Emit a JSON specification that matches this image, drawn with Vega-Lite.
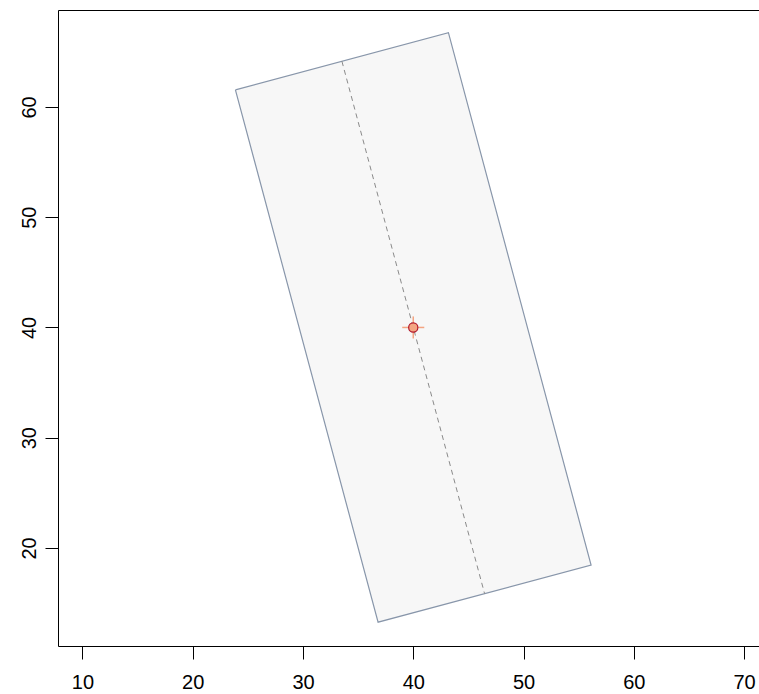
{
  "$schema": "https://vega.github.io/schema/vega-lite/v6.json",
  "width": 701,
  "height": 636,
  "autosize": {"type": "none"},
  "padding": {"left": 58, "top": 10, "right": 0, "bottom": 48},
  "background": "white",
  "config": {
    "view": {"stroke": null},
    "font": "Liberation Sans",
    "axis": {
      "grid": false,
      "domainColor": "black",
      "domainWidth": 1,
      "tickColor": "black",
      "tickWidth": 1,
      "tickSize": 13,
      "labelFont": "Liberation Sans",
      "labelFontSize": 20,
      "labelColor": "black",
      "title": null
    }
  },
  "datasets": {
    "poly": [
      {"o": 1, "x": 23.87, "y": 61.56},
      {"o": 2, "x": 43.19, "y": 66.74},
      {"o": 3, "x": 56.13, "y": 18.44},
      {"o": 4, "x": 36.81, "y": 13.26},
      {"o": 5, "x": 23.87, "y": 61.56}
    ],
    "axisline": [
      {"x": 33.53, "y": 64.15, "x2": 46.47, "y2": 15.85}
    ],
    "cross": [
      {"x": 39.0, "y": 40, "x2": 41.0, "y2": 40},
      {"x": 40, "y": 39.0, "x2": 40, "y2": 41.0}
    ],
    "center": [
      {"x": 40, "y": 40}
    ]
  },
  "resolve": {"axis": {"x": "independent", "y": "independent"}},
  "layer": [
    {
      "data": {"name": "poly"},
      "mark": {"type": "line", "fill": "#f7f7f7", "stroke": "#8896aa", "strokeWidth": 1.2, "clip": true},
      "encoding": {
        "x": {"field": "x", "type": "quantitative", "scale": {"domain": [7.778, 71.36], "nice": false, "zero": false},
              "axis": {"orient": "bottom", "values": [10, 20, 30, 40, 50, 60, 70], "labelPadding": 13, "labelFlush": false, "labelOverlap": false}},
        "y": {"field": "y", "type": "quantitative", "scale": {"domain": [11.1, 68.8], "nice": false, "zero": false},
              "axis": {"orient": "left", "values": [20, 30, 40, 50, 60], "labelAngle": -90, "labelAlign": "center", "labelBaseline": "bottom", "labelPadding": 6, "labelFlush": false, "labelOverlap": false}},
        "order": {"field": "o", "type": "quantitative"}
      }
    },
    {
      "data": {"name": "axisline"},
      "mark": {"type": "rule", "stroke": "#8a8a8a", "strokeWidth": 1, "strokeDash": [5, 4]},
      "encoding": {
        "x": {"field": "x", "type": "quantitative", "axis": {"orient": "top", "ticks": false, "labels": false, "domain": true}},
        "y": {"field": "y", "type": "quantitative", "axis": null},
        "x2": {"field": "x2"},
        "y2": {"field": "y2"}
      }
    },
    {
      "data": {"name": "cross"},
      "mark": {"type": "rule", "stroke": "#f4a582", "strokeWidth": 1.5},
      "encoding": {
        "x": {"field": "x", "type": "quantitative", "axis": null},
        "y": {"field": "y", "type": "quantitative", "axis": null},
        "x2": {"field": "x2"},
        "y2": {"field": "y2"}
      }
    },
    {
      "data": {"name": "center"},
      "mark": {"type": "point", "filled": true, "fill": "#f4a582", "stroke": "#b2182b", "strokeWidth": 1.2, "size": 85, "opacity": 1},
      "encoding": {
        "x": {"field": "x", "type": "quantitative", "axis": null},
        "y": {"field": "y", "type": "quantitative", "axis": null}
      }
    }
  ]
}
